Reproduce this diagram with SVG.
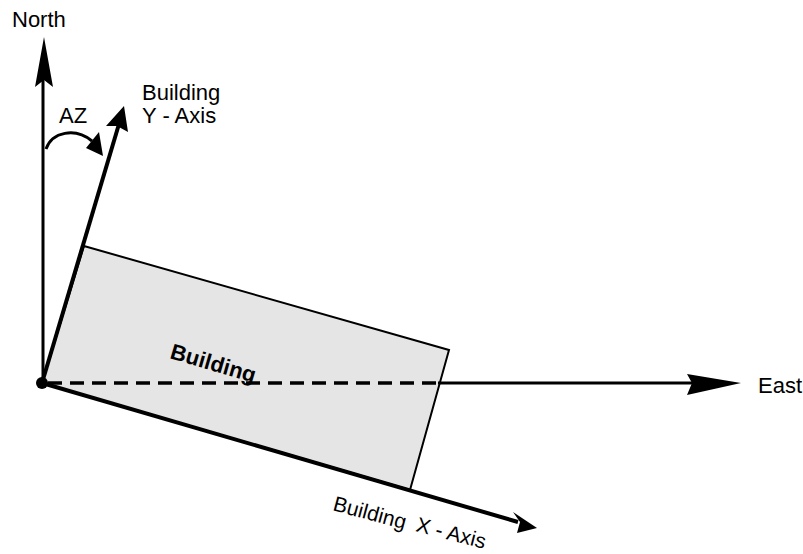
<svg xmlns="http://www.w3.org/2000/svg" width="803" height="554" viewBox="0 0 803 554">
<style>
text{font-family:"Liberation Sans",Arial,sans-serif;font-size:22px;fill:#000}
.ax{stroke:#000;stroke-width:4;fill:none}
.ah{fill:#000;stroke:none}
</style>
<rect width="803" height="554" fill="#fff"/>
<g id="building">
<polygon points="42,383 84,246 449,350 410,490" fill="#e5e5e5" stroke="#000" stroke-width="2"/>
<text transform="translate(169,358) rotate(16.3)" style="font-weight:bold;font-size:22px">Building</text>
</g>
<g id="connectors">
<line class="ax" x1="43" y1="383" x2="43" y2="80" style="stroke-width:3"/>
<path class="ah" d="M44,37 L53,87 L44,80 L35,87 Z"/>
<line class="ax" x1="42" y1="383" x2="119" y2="124"/>
<path class="ah" d="M124,106 L128,132 L117,126 L106,126 Z"/>
<line class="ax" x1="42" y1="383" x2="518" y2="522"/>
<path class="ah" d="M537,528 L517,533 L520,522 L513,512 Z"/>
<line x1="48" y1="383" x2="438" y2="383" stroke="#000" stroke-width="3.5" stroke-dasharray="14,8"/>
<line x1="438" y1="383" x2="692" y2="383" stroke="#000" stroke-width="3"/>
<path class="ah" d="M741,383 L687,395 L692,383 L687,374 Z"/>
<path d="M46,149 C52,132 75,127 92,141" fill="none" stroke="#000" stroke-width="3"/>
<path class="ah" d="M103,156 L86,148 L99,132 Z"/>
<circle cx="42" cy="383" r="6" fill="#000"/>
</g>
<g id="labels">
<text x="12" y="27">North</text>
<text x="142" y="100">Building</text>
<text x="142" y="123">Y - Axis</text>
<text x="59" y="123">AZ</text>
<text x="758" y="393">East</text>
<text transform="translate(332,510) rotate(15)" style="font-size:21px">Building</text>
<text transform="translate(415,531) rotate(14.5)" style="font-size:21px">X - Axis</text>
</g>
</svg>
